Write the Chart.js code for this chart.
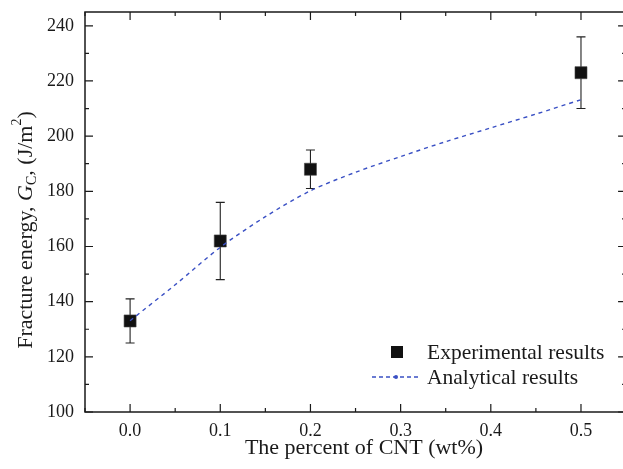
<!DOCTYPE html>
<html>
<head>
<meta charset="utf-8">
<script src="https://cdn.jsdelivr.net/npm/chart.js@4/dist/chart.umd.min.js"></script>
<style>
  html, body { margin: 0; padding: 0; background: #fff; overflow: hidden; }
  #wrap { width: 623px; height: 469px; position: relative; }
  #c { width: 623px; height: 469px; display: block; }
</style>
</head>
<body>
<div id="wrap"><canvas id="c" width="623" height="469"></canvas></div>
<script>
// ---- data ----
const expX = [0.0, 0.1, 0.2, 0.5];
const expY = [133, 162, 188, 223];
const expLow = [125, 148, 181, 210];
const expHigh = [141, 176, 195, 236];

const anaX = [0.0, 0.05, 0.1, 0.15, 0.2, 0.25, 0.3, 0.35, 0.4, 0.45, 0.5];
const anaY = [133.1, 146.1, 159.7, 170.8, 180.2, 186.9, 192.6, 198, 203, 208, 213.2];

const xMajorTicks = [0.0, 0.1, 0.2, 0.3, 0.4, 0.5];
const xMinorTicks = [-0.05, 0.05, 0.15, 0.25, 0.35, 0.45];
const yMajorTicks = [100, 120, 140, 160, 180, 200, 220, 240];
const yMinorTicks = [110, 130, 150, 170, 190, 210, 230];
const xFrameMax = 0.55;   // the frame's right edge lies just past the picture's border

const seriesNames = ['Experimental results', 'Analytical results'];
const xTitle = 'The percent of CNT (wt%)';

const SERIF = '"Liberation Serif", "Times New Roman", serif';
const INK = '#1a1a1a';
const BLUE = '#3a50c4';

const errorBars = {
  id: 'errorBars',
  beforeDatasetsDraw(chart) {
    const {ctx, scales: {x, y}} = chart;
    ctx.save();
    ctx.strokeStyle = '#222';
    ctx.lineWidth = 1.1;
    for (let i = 0; i < expX.length; i++) {
      const px = x.getPixelForValue(expX[i]);
      const lo = y.getPixelForValue(expLow[i]);
      const hi = y.getPixelForValue(expHigh[i]);
      ctx.beginPath();
      ctx.moveTo(px, lo); ctx.lineTo(px, hi);
      ctx.moveTo(px - 4.5, lo); ctx.lineTo(px + 4.5, lo);
      ctx.moveTo(px - 4.5, hi); ctx.lineTo(px + 4.5, hi);
      ctx.stroke();
    }
    ctx.restore();
  }
};

const frameAndDeco = {
  id: 'frameAndDeco',
  afterDraw(chart) {
    const {ctx, chartArea: a, scales: {x, y}} = chart;
    const right = x.getPixelForValue(xFrameMax);
    ctx.save();
    // frame
    ctx.strokeStyle = INK;
    ctx.lineWidth = 1.5;
    ctx.strokeRect(a.left, a.top, right - a.left, a.bottom - a.top);
    // ticks (inward)
    ctx.lineWidth = 1.2;
    ctx.beginPath();
    const tx = (v, len) => {
      const p = x.getPixelForValue(v);
      ctx.moveTo(p, a.bottom); ctx.lineTo(p, a.bottom - len);
      ctx.moveTo(p, a.top); ctx.lineTo(p, a.top + len);
    };
    const ty = (v, len) => {
      const p = y.getPixelForValue(v);
      ctx.moveTo(a.left, p); ctx.lineTo(a.left + len, p);
      ctx.moveTo(right, p); ctx.lineTo(right - len, p);
    };
    xMajorTicks.forEach(v => tx(v, 8));
    xMinorTicks.forEach(v => tx(v, 4));
    yMajorTicks.forEach(v => ty(v, 8));
    yMinorTicks.forEach(v => ty(v, 4));
    ctx.stroke();

    // x-axis title
    ctx.fillStyle = INK;
    ctx.font = '22px ' + SERIF;
    ctx.textAlign = 'center';
    ctx.textBaseline = 'middle';
    ctx.fillText(xTitle, 364, 448);
    ctx.textAlign = 'left';

    // y-axis title with rich text
    const parts = [
      {t: 'Fracture energy, ', f: '22px ' + SERIF, dy: 0},
      {t: 'G', f: 'italic 22px ' + SERIF, dy: 0},
      {t: 'C', f: '14px ' + SERIF, dy: 6},
      {t: ', (J/m', f: '22px ' + SERIF, dy: 0},
      {t: '2', f: '14px ' + SERIF, dy: -9},
      {t: ')', f: '22px ' + SERIF, dy: 0}
    ];
    let total = 0;
    parts.forEach(p => { ctx.font = p.f; p.w = ctx.measureText(p.t).width; total += p.w; });
    ctx.save();
    ctx.translate(26, 230);
    ctx.rotate(-Math.PI / 2);
    ctx.fillStyle = INK;
    ctx.textBaseline = 'middle';
    let cx = -total / 2;
    parts.forEach(p => {
      ctx.font = p.f;
      ctx.fillText(p.t, cx, p.dy);
      cx += p.w;
    });
    ctx.restore();

    // legend
    ctx.font = '21.5px ' + SERIF;
    ctx.textBaseline = 'middle';
    ctx.fillStyle = '#111';
    ctx.fillRect(391, 346, 12, 12);
    ctx.fillStyle = INK;
    ctx.fillText(seriesNames[0], 427, 353);
    ctx.strokeStyle = BLUE;
    ctx.lineWidth = 1.3;
    ctx.setLineDash([4, 3]);
    ctx.beginPath();
    ctx.moveTo(372, 377); ctx.lineTo(418, 377);
    ctx.stroke();
    ctx.setLineDash([]);
    ctx.fillStyle = BLUE;
    ctx.beginPath(); ctx.arc(396, 377, 2, 0, Math.PI * 2); ctx.fill();
    ctx.fillStyle = INK;
    ctx.fillText(seriesNames[1], 427, 378);
    ctx.restore();
  }
};

const noPad = s => { s.paddingTop = 0; s.paddingBottom = 0; s.paddingLeft = 0; s.paddingRight = 0; };

new Chart(document.getElementById('c'), {
  type: 'scatter',
  data: {
    datasets: [
      {
        label: seriesNames[1],
        data: anaX.map((v, i) => ({x: v, y: anaY[i]})),
        showLine: true,
        borderColor: BLUE,
        borderWidth: 1.4,
        borderDash: [4, 4],
        pointRadius: 0,
        tension: 0.3,
        order: 0
      },
      {
        label: seriesNames[0],
        data: expX.map((v, i) => ({x: v, y: expY[i]})),
        pointStyle: 'rect',
        pointRadius: 8.5,
        backgroundColor: '#111',
        borderColor: '#444',
        borderWidth: 0.6,
        order: 1
      }
    ]
  },
  options: {
    responsive: false,
    animation: false,
    devicePixelRatio: 1,
    layout: { padding: { left: 0, top: 12, right: 1, bottom: 0 } },
    plugins: { legend: { display: false }, tooltip: { enabled: false } },
    scales: {
      x: {
        type: 'linear',
        min: -0.05, max: 0.5365,
        afterBuildTicks(s) { s.ticks = xMajorTicks.map(v => ({value: v})); },
        afterFit(s) { s.height = 57; noPad(s); },
        grid: { display: false, drawTicks: false },
        border: { display: false },
        ticks: {
          color: INK, padding: 8,
          font: { family: SERIF, size: 18 },
          callback: v => v.toFixed(1)
        }
      },
      y: {
        type: 'linear',
        min: 100, max: 245,
        afterBuildTicks(s) { s.ticks = yMajorTicks.map(v => ({value: v})); },
        afterFit(s) { s.width = 85; noPad(s); },
        grid: { display: false, drawTicks: false },
        border: { display: false },
        ticks: {
          color: INK, padding: 11,
          font: { family: SERIF, size: 18 },
          callback: v => String(v)
        }
      }
    }
  },
  plugins: [errorBars, frameAndDeco]
});
</script>
</body>
</html>
